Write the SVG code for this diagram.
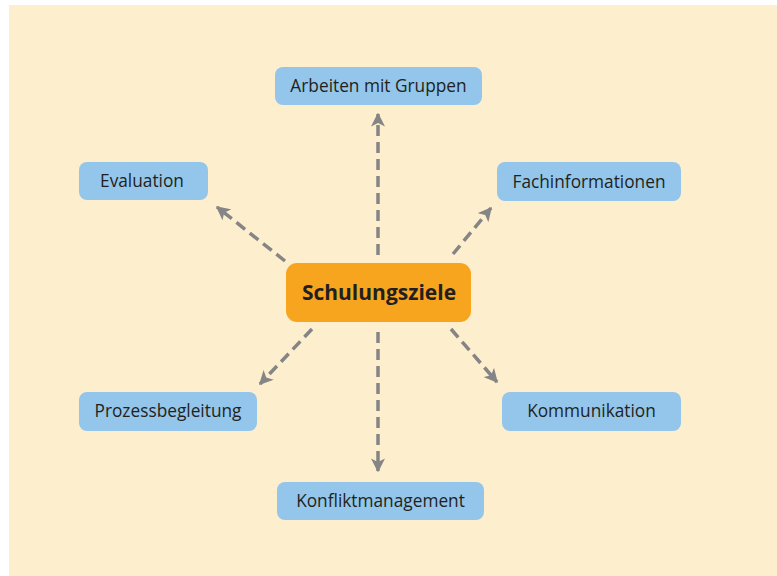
<svg xmlns="http://www.w3.org/2000/svg" width="777" height="576" viewBox="0 0 777 576">
<style>
.n{fill:#93c6ea}
.t{font-family:"Open Sans","Noto Sans",sans-serif;font-size:17.3px;fill:#231f20;text-anchor:middle}
.c{stroke:#858585;stroke-width:3.5;stroke-dasharray:11,6;fill:none}
</style>
<defs>
<marker id="ah" viewBox="0 0 10 10" refX="9" refY="5" markerWidth="4" markerHeight="4" markerUnits="strokeWidth" orient="auto">
<path d="M0,0L10,5L0,10L2.5,5z" fill="#858585"/>
</marker>
</defs>
<rect x="0" y="0" width="777" height="576" fill="#ffffff"/>
<rect x="9" y="5" width="768" height="571" fill="#fdeece"/>
<g id="connectors">
<line class="c" x1="378" y1="255" x2="378" y2="114" marker-end="url(#ah)"/>
<line class="c" x1="285" y1="261" x2="217" y2="207" marker-end="url(#ah)"/>
<line class="c" x1="453" y1="254" x2="491" y2="208" marker-end="url(#ah)"/>
<line class="c" x1="312" y1="329" x2="260" y2="384" marker-end="url(#ah)"/>
<line class="c" x1="378" y1="332" x2="378" y2="471" marker-end="url(#ah)"/>
<line class="c" x1="451" y1="329" x2="497" y2="382" marker-end="url(#ah)"/>
</g>
<g id="center">
<rect x="286" y="263" width="185" height="59" rx="11" fill="#f7a51e"/>
<text x="379" y="299.5" class="t" style="font-size:21px;font-weight:bold">Schulungsziele</text>
</g>
<g id="arbeiten">
<rect class="n" x="275" y="67" width="207" height="38" rx="8"/>
<text class="t" x="378.5" y="92">Arbeiten mit Gruppen</text>
</g>
<g id="evaluation">
<rect class="n" x="79" y="162" width="129" height="38" rx="8"/>
<text class="t" x="142" y="187">Evaluation</text>
</g>
<g id="fachinformationen">
<rect class="n" x="497" y="162" width="184" height="39" rx="8"/>
<text class="t" x="589" y="187.5">Fachinformationen</text>
</g>
<g id="prozessbegleitung">
<rect class="n" x="79" y="392" width="178" height="39" rx="8"/>
<text class="t" x="168" y="417">Prozessbegleitung</text>
</g>
<g id="kommunikation">
<rect class="n" x="502" y="392" width="179" height="39" rx="8"/>
<text class="t" x="591.5" y="417">Kommunikation</text>
</g>
<g id="konfliktmanagement">
<rect class="n" x="277" y="482" width="207" height="38" rx="8"/>
<text class="t" x="380.5" y="507">Konfliktmanagement</text>
</g>
</svg>
